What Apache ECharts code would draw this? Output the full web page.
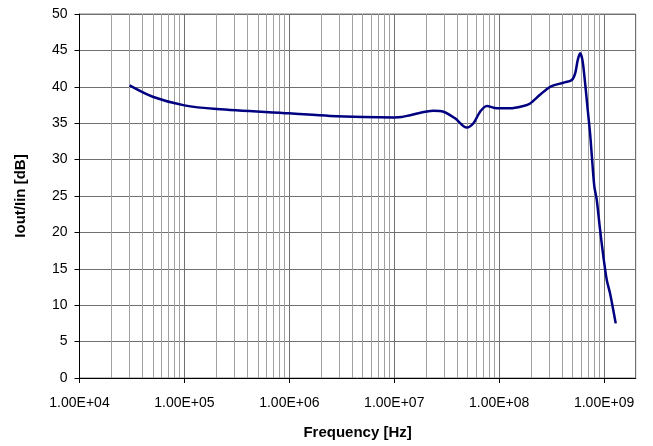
<!DOCTYPE html>
<html>
<head>
<meta charset="utf-8">
<script src="https://cdn.jsdelivr.net/npm/echarts@6/dist/echarts.min.js"></script>
<style>html,body{margin:0;padding:0;background:#fff}#c{width:653px;height:446px}</style>
</head>
<body>
<div id="c"></div>
<script>
// Frequency [Hz]
var freq = [3.0e4, 5.06e4, 1e5, 2.03e5, 1e6, 2.44e6, 5.07e6, 1e7, 1.17e7, 1.42e7, 2.36e7, 2.94e7,
  3.8e7, 4.9e7, 5.68e7, 6.58e7, 7.62e7, 9.5e7, 1.27e8, 1.70e8, 1.97e8, 2.45e8, 3.06e8, 4.09e8,
  4.92e8, 5.30e8, 5.61e8, 5.90e8, 6.21e8, 6.59e8, 6.93e8, 7.35e8, 7.73e8, 8.07e8, 8.51e8, 9.16e8,
  9.84e8, 1.06e9, 1.14e9, 1.29e9];
// Iout/Iin [dB]
var gain = [40.2, 38.6, 37.45, 36.95, 36.35, 36.0, 35.85, 35.8, 35.85, 36.1, 36.7, 36.58,
  35.67, 34.4, 35.0, 36.58, 37.36, 37.04, 37.04, 37.36, 37.7, 38.9, 40.0, 40.56,
  40.93, 41.85, 43.7, 44.6, 43.7, 40.5, 37.27, 33.6, 29.5, 26.3, 24.45, 20.3,
  16.66, 13.46, 11.6, 7.5];
var decades = [4, 5, 6, 7, 8, 9];
var minorMultipliers = [2, 3, 4, 5, 6, 7, 8, 9];
var xMin = 1e4, xMax = 2e9;

var minorLines = [];
decades.forEach(function (d) {
  minorMultipliers.forEach(function (m) {
    var v = m * Math.pow(10, d);
    if (v < xMax) minorLines.push({ xAxis: v });
  });
});

function fmt(v) {
  var e = Math.round(Math.log10(v));
  if (Math.abs(v - Math.pow(10, e)) > 1e-6 * v) return '';
  return '1.00E+' + (e < 10 ? '0' : '') + e;
}

var chart = echarts.init(document.getElementById('c'), null, { renderer: 'canvas' });
chart.setOption({
  animation: false,
  backgroundColor: '#fff',
  grid: { left: 79.5, top: 14, right: 17.3, bottom: 68, outerBoundsMode: 'none', containLabel: false,
    show: true, borderColor: '#808080', borderWidth: 1 },
  xAxis: {
    type: 'log', logBase: 10, min: xMin, max: xMax,
    name: 'Frequency [Hz]', nameLocation: 'middle', nameGap: 47,
    nameTextStyle: { fontFamily: 'Liberation Sans', fontWeight: 'bold', fontSize: 15, color: '#000' },
    axisLine: { show: true, onZero: false, lineStyle: { color: '#000', width: 1 } },
    axisTick: { show: true, length: 5, lineStyle: { color: '#000' } },
    axisLabel: { margin: 18, fontFamily: 'Liberation Sans', fontSize: 14, color: '#000', formatter: fmt, showMaxLabel: false },
    splitLine: { show: true, lineStyle: { color: '#707070', width: 1 } }
  },
  yAxis: {
    type: 'value', min: 0, max: 50, interval: 5,
    name: 'Iout/Iin [dB]', nameLocation: 'middle', nameGap: 51,
    nameTextStyle: { fontFamily: 'Liberation Sans', fontWeight: 'bold', fontSize: 15, color: '#000' },
    axisLine: { show: true, lineStyle: { color: '#000', width: 1 } },
    axisTick: { show: true, length: 5, lineStyle: { color: '#000' } },
    axisLabel: { margin: 12, fontFamily: 'Liberation Sans', fontSize: 14, color: '#000' },
    splitLine: { show: true, lineStyle: { color: '#707070', width: 1 } }
  },
  series: [{
    type: 'line',
    data: freq.map(function (f, i) { return [f, gain[i]]; }),
    showSymbol: false,
    smooth: 0.3,
    lineStyle: { color: '#000080', width: 2.5 },
    z: 5,
    markLine: {
      silent: true, symbol: ['none', 'none'], animation: false,
      label: { show: false },
      lineStyle: { color: '#a0a0a0', width: 1, type: 'solid' },
      emphasis: { disabled: true },
      data: minorLines,
      z: 1
    }
  }]
});
</script>
</body>
</html>
